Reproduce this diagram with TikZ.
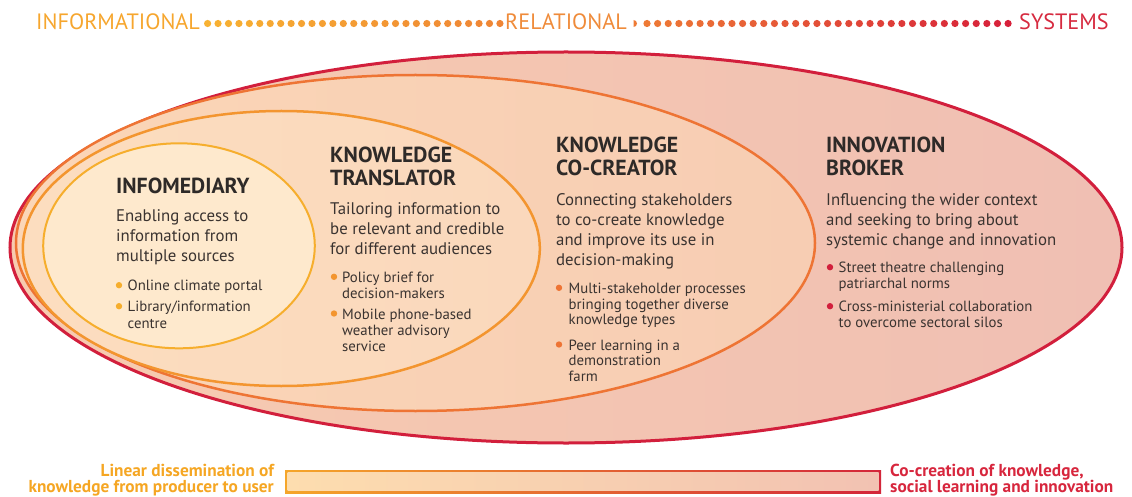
\documentclass[tikz,border=0pt]{standalone}
\usepackage{fontspec}
\setmainfont{PT Sans}
\usetikzlibrary{shapes.geometric}
\definecolor{redS}{HTML}{D21F3C}
\definecolor{cocS}{HTML}{EE7434}
\definecolor{trS}{HTML}{F3952F}
\definecolor{infS}{HTML}{F6AE2D}
\definecolor{outL}{HTML}{F7CBB0}
\definecolor{outR}{HTML}{F0BFB3}
\definecolor{cocL}{HTML}{FBD6B7}
\definecolor{cocR}{HTML}{F7CDB3}
\definecolor{trL}{HTML}{FCDDBF}
\definecolor{trR}{HTML}{FAD8BC}
\definecolor{infF}{HTML}{FEE9CD}
\definecolor{txt}{HTML}{3A3330}
\definecolor{hd}{HTML}{2E2A28}
\definecolor{topA}{HTML}{F6A62E}
\definecolor{topB}{HTML}{EF8B3A}
\definecolor{topC}{HTML}{D62A3F}
\definecolor{dotA}{HTML}{F8B232}
\definecolor{dotB}{HTML}{EF8535}
\definecolor{dotC}{HTML}{EE7A35}
\definecolor{dotD}{HTML}{D7203A}
\definecolor{barL}{HTML}{FDDDAF}
\definecolor{barR}{HTML}{F2C2B2}
\definecolor{barBL}{HTML}{F5A62A}
\definecolor{barBR}{HTML}{D3263A}
\definecolor{botL}{HTML}{F5A623}
\definecolor{botR}{HTML}{D7263D}
\tikzset{
  ring/.style={ellipse, inner sep=0pt, outer sep=0pt},
  head/.style={anchor=base west, inner sep=0pt, text=hd, font=\fontsize{21.8}{24}\selectfont\bfseries},
  body/.style={anchor=base west, inner sep=0pt, text=txt, font=\fontsize{16.8}{20}\selectfont},
  bul/.style={anchor=base west, inner sep=0pt, text=txt, font=\fontsize{14.8}{16}\selectfont},
  toplab/.style={anchor=base west, inner sep=0pt, font=\fontsize{22.2}{24}\selectfont},
  botlab/.style={inner sep=0pt, font=\fontsize{17.3}{18}\selectfont\bfseries},
}
\begin{document}
\begin{tikzpicture}[x=1pt,y=-1pt]
\useasboundingbox (0,0) rectangle (1132,497);
% ellipses
\node[ring, minimum width=1112pt, minimum height=391pt, draw=redS, line width=3pt, left color=outL, right color=outR] (outer) at (566,247.5) {};
\node[ring, minimum width=799pt, minimum height=336pt, draw=cocS, line width=2.5pt, left color=cocL, right color=cocR] (cocell) at (415.5,243) {};
\node[ring, minimum width=517pt, minimum height=275pt, draw=trS, line width=2.5pt, left color=trL, right color=trR] (trell) at (281.3,248.5) {};
\node[ring, minimum width=271.6pt, minimum height=205pt, draw=infS, line width=2pt, fill=infF] (infell) at (179,245.8) {};
% top scale
\node[toplab, text=topA] (tInf) at (36,30) {INFORMATIONAL};
\node[toplab, text=topB] (tRel) at (505,30) {RELATIONAL};
\node[toplab, text=topC] (tSys) at (1019,30) {SYSTEMS};
\foreach \i in {0,...,28}{
  \pgfmathsetmacro{\p}{100-100*\i/28}
  \fill[dotA!\p!dotB] ({207.6+10.44*\i},23.5) circle (3.6pt);
}
\fill[dotC] (633.5,20) arc[start angle=90, end angle=-90, radius=3.5pt] -- cycle;
\foreach \i in {0,...,34}{
  \pgfmathsetmacro{\p}{100-100*\i/34}
  \fill[dotC!\p!dotD] ({647+10.62*\i},23.5) circle (3.6pt);
}
% INFOMEDIARY
\node[head] (iH) at (116,193.3) {INFOMEDIARY};
\foreach \t [count=\i] in {Enabling access to,information from,multiple sources}
  \node[body, name=iB\i] at (116,{221.7+20*(\i-1)}) {\t};
\fill[infS] (119,285.2) circle (3.2pt);
\fill[infS] (119,306.2) circle (3.2pt);
\node[bul] (iL1) at (127.5,290.7) {Online climate portal};
\node[bul] (iL2) at (127.5,311.7) {Library/information};
\node[bul] (iL3) at (127.5,328.3) {centre};
% TRANSLATOR
\node[head] (tH1) at (330,162.3) {KNOWLEDGE};
\node[head] (tH2) at (330,185.7) {TRANSLATOR};
\foreach \t [count=\i] in {Tailoring information to,be relevant and credible,for different audiences}
  \node[body, name=tB\i] at (330,{214.3+20*(\i-1)}) {\t};
\fill[trS] (334,276.8) circle (3.2pt);
\fill[trS] (334,313.5) circle (3.2pt);
\node[bul] (tL1) at (342,282.3) {Policy brief for};
\node[bul] (tL2) at (342,298.5) {decision-makers};
\node[bul] (tL3) at (342,319) {Mobile phone-based};
\node[bul] (tL4) at (342,335.3) {weather advisory};
\node[bul] (tL5) at (342,351.8) {service};
% CO-CREATOR
\node[head] (cH1) at (556,152.3) {KNOWLEDGE};
\node[head] (cH2) at (556,176) {CO-CREATOR};
\foreach \t [count=\i] in {Connecting stakeholders,to co-create knowledge,and improve its use in,decision-making}
  \node[body, name=cB\i] at (556,{205+20.3*(\i-1)}) {\t};
\fill[cocS] (559,287.8) circle (3.2pt);
\fill[cocS] (559,344.5) circle (3.2pt);
\node[bul] (cL1) at (568.5,293.3) {Multi-stakeholder processes};
\node[bul] (cL2) at (568.5,309) {bringing together diverse};
\node[bul] (cL3) at (568.5,324.7) {knowledge types};
\node[bul] (cL4) at (568.5,350) {Peer learning in a};
\node[bul] (cL5) at (568.5,365.7) {demonstration};
\node[bul] (cL6) at (568.5,381.3) {farm};
% BROKER
\node[head] (bH1) at (826,152.3) {INNOVATION};
\node[head] (bH2) at (826,176) {BROKER};
\foreach \t [count=\i] in {Influencing the wider context,and seeking to bring about,systemic change and innovation}
  \node[body, name=bB\i] at (826,{205+20.3*(\i-1)}) {\t};
\fill[redS] (830,267.2) circle (3.2pt);
\fill[redS] (830,306.2) circle (3.2pt);
\node[bul] (bL1) at (838.5,272.7) {Street theatre challenging};
\node[bul] (bL2) at (838.5,288.3) {patriarchal norms};
\node[bul] (bL3) at (838.5,311.7) {Cross-ministerial collaboration};
\node[bul] (bL4) at (838.5,327.3) {to overcome sectoral silos};
% bottom bar
\path[left color=barBL, right color=barBR] (285,470) rectangle (881,493);
\path[left color=barL, right color=barR] (287.5,472.5) rectangle (878.5,490.5);
\node[botlab, anchor=base east, text=botL] (lin1) at (274,476) {Linear dissemination of};
\node[botlab, anchor=base east, text=botL] (lin2) at (274,492.5) {knowledge from producer to user};
\node[botlab, anchor=base west, text=botR] (co1) at (890,476) {Co-creation of knowledge,};
\node[botlab, anchor=base west, text=botR] (co2) at (890,492.5) {social learning and innovation};
\end{tikzpicture}
\end{document}
